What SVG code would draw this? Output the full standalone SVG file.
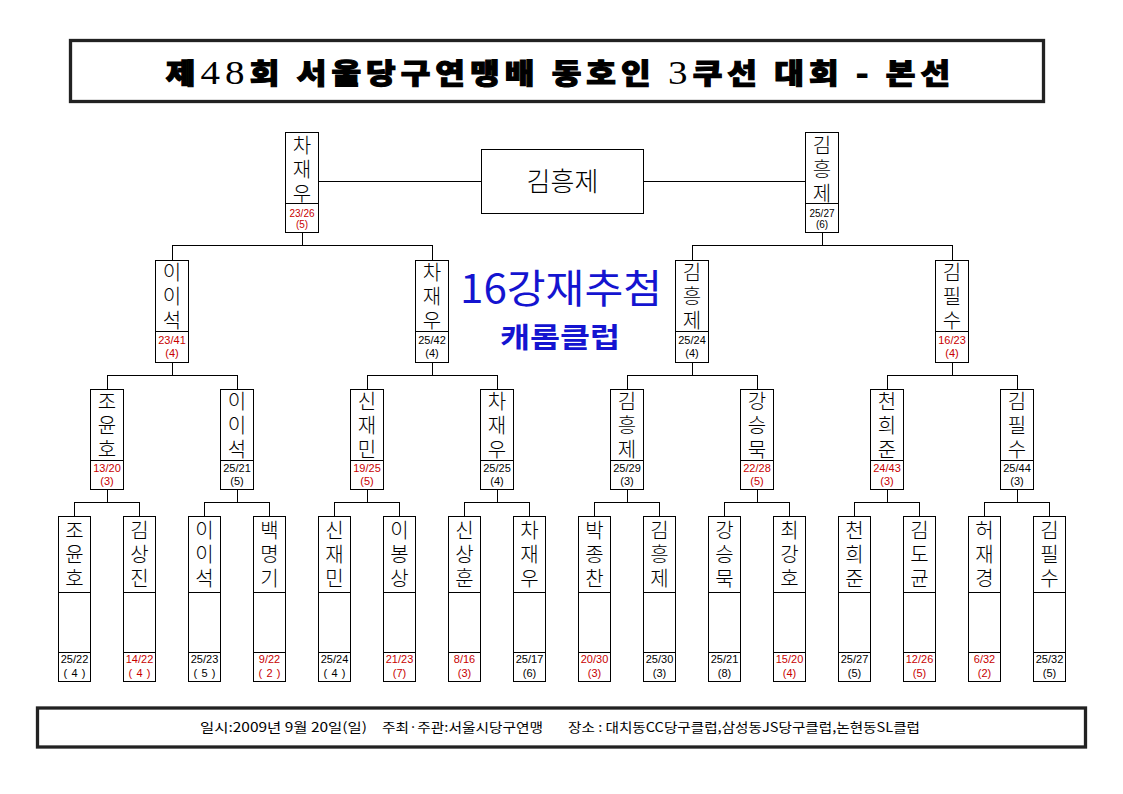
<svg xmlns="http://www.w3.org/2000/svg" width="1123" height="794" viewBox="0 0 1123 794">
<style>
.bx{fill:#fff;stroke:#000;stroke-width:1;shape-rendering:crispEdges}
.dv{stroke:#000;stroke-width:1;shape-rendering:crispEdges}
.frame{fill:none;stroke:#222;stroke-width:3.3}
.nm{font-family:"Noto Sans CJK KR","Noto Sans",sans-serif;font-size:20px;text-anchor:middle;fill:#000;font-weight:300;writing-mode:vertical-rl}
.sc{font-family:"Liberation Sans",Arial,sans-serif;font-size:11px;text-anchor:middle}
.s1{font-family:"Liberation Sans",Arial,sans-serif;font-size:10px;text-anchor:middle}
.k{fill:#000}.r{fill:#c80000}
.con path{fill:none;stroke:#000;stroke-width:1;shape-rendering:crispEdges}
.blue{font-family:"Noto Sans CJK KR",sans-serif;fill:#1414d0;text-anchor:middle}
.ft{font-family:"Noto Sans CJK KR","Liberation Sans",sans-serif;font-size:13px;fill:#000}
.dg{font-family:"Liberation Serif",serif;font-weight:normal;font-size:34px;stroke:none}
</style>
<rect width="1123" height="794" fill="#fff"/>

<g id="title">
<rect class="frame" x="70.5" y="40.5" width="973" height="61"/>
<text transform="translate(558,84) scale(1.15,1)" text-anchor="middle" textLength="682" lengthAdjust="spacing" font-family="'Noto Sans CJK KR',sans-serif" font-weight="900" font-size="28" fill="#000" stroke="#000" stroke-width="1.1">제<tspan class="dg">48</tspan>회 서울당구연맹배 동호인 <tspan class="dg">3</tspan>쿠선 대회 - 본선</text>
</g>

<g class="con" id="connectors">
<path d="M74.5 516.5V502.5H139.5V516.5M107 489.5V502.5"/>
<path d="M204.5 516.5V502.5H269.5V516.5M237 489.5V502.5"/>
<path d="M334.5 516.5V502.5H399.5V516.5M367 489.5V502.5"/>
<path d="M464.5 516.5V502.5H529.5V516.5M497 489.5V502.5"/>
<path d="M594.5 516.5V502.5H659.5V516.5M627 489.5V502.5"/>
<path d="M724.5 516.5V502.5H789.5V516.5M757 489.5V502.5"/>
<path d="M854.5 516.5V502.5H919.5V516.5M887 489.5V502.5"/>
<path d="M984.5 516.5V502.5H1049.5V516.5M1017 489.5V502.5"/>
<path d="M107 389.5V375.5H237V389.5M172 362.5V375.5"/>
<path d="M367 389.5V375.5H497V389.5M432 362.5V375.5"/>
<path d="M627 389.5V375.5H757V389.5M692 362.5V375.5"/>
<path d="M887 389.5V375.5H1017V389.5M952 362.5V375.5"/>
<path d="M172 260.5V245.5H432V260.5M302 232.5V245.5"/>
<path d="M692 260.5V245.5H952V260.5M822 232.5V245.5"/>
<path d="M318.5 181.5H481.5M643.5 181.5H805.5"/>
</g>

<g id="final">
<rect class="bx" x="481.5" y="149.5" width="162" height="64"/>
<text x="562.5" y="191" text-anchor="middle" font-family="'Noto Sans CJK KR',sans-serif" font-weight="300" font-size="26" fill="#000">김흥제</text>
</g>

<g id="f1">
<rect class="bx" x="285.5" y="132.5" width="33" height="100"/><path class="dv" d="M285.5 203.5H318.5"/>
<text class="nm" x="302" y="169" textLength="68" lengthAdjust="spacing">차재우</text>
<text class="s1 r" x="302" y="216.5">23/26</text><text class="s1 r" x="302" y="227.5">(5)</text>
</g>
<g id="f2">
<rect class="bx" x="805.5" y="132.5" width="33" height="100"/><path class="dv" d="M805.5 203.5H838.5"/>
<text class="nm" x="822" y="169" textLength="68" lengthAdjust="spacing">김흥제</text>
<text class="s1 k" x="822" y="216.5">25/27</text><text class="s1 k" x="822" y="227.5">(6)</text>
</g>

<g id="sf1">
<rect class="bx" x="155.5" y="260.5" width="33" height="102"/><path class="dv" d="M155.5 331.5H188.5"/>
<text class="nm" x="172" y="296" textLength="68" lengthAdjust="spacing">이이석</text>
<text class="sc r" x="172" y="343.5">23/41</text><text class="sc r" x="172" y="356.5">(4)</text>
</g>
<g id="sf2">
<rect class="bx" x="415.5" y="260.5" width="33" height="102"/><path class="dv" d="M415.5 331.5H448.5"/>
<text class="nm" x="432" y="296" textLength="68" lengthAdjust="spacing">차재우</text>
<text class="sc k" x="432" y="343.5">25/42</text><text class="sc k" x="432" y="356.5">(4)</text>
</g>
<g id="sf3">
<rect class="bx" x="675.5" y="260.5" width="33" height="102"/><path class="dv" d="M675.5 331.5H708.5"/>
<text class="nm" x="692" y="296" textLength="68" lengthAdjust="spacing">김흥제</text>
<text class="sc k" x="692" y="343.5">25/24</text><text class="sc k" x="692" y="356.5">(4)</text>
</g>
<g id="sf4">
<rect class="bx" x="935.5" y="260.5" width="33" height="102"/><path class="dv" d="M935.5 331.5H968.5"/>
<text class="nm" x="952" y="296" textLength="68" lengthAdjust="spacing">김필수</text>
<text class="sc r" x="952" y="343.5">16/23</text><text class="sc r" x="952" y="356.5">(4)</text>
</g>

<g id="banner">
<text class="blue" x="561" y="303" font-size="40" textLength="202" lengthAdjust="spacingAndGlyphs">16강재추첨</text>
<text class="blue" x="560" y="348" font-size="28" font-weight="bold" textLength="120" lengthAdjust="spacingAndGlyphs">캐롬클럽</text>
</g>

<g id="qf1">
<rect class="bx" x="90.5" y="389.5" width="33" height="100"/><path class="dv" d="M90.5 460.5H123.5"/>
<text class="nm" x="107" y="425" textLength="68" lengthAdjust="spacing">조윤호</text>
<text class="sc r" x="107" y="472">13/20</text><text class="sc r" x="107" y="484.5">(3)</text>
</g>
<g id="qf2">
<rect class="bx" x="220.5" y="389.5" width="33" height="100"/><path class="dv" d="M220.5 460.5H253.5"/>
<text class="nm" x="237" y="425" textLength="68" lengthAdjust="spacing">이이석</text>
<text class="sc k" x="237" y="472">25/21</text><text class="sc k" x="237" y="484.5">(5)</text>
</g>
<g id="qf3">
<rect class="bx" x="350.5" y="389.5" width="33" height="100"/><path class="dv" d="M350.5 460.5H383.5"/>
<text class="nm" x="367" y="425" textLength="68" lengthAdjust="spacing">신재민</text>
<text class="sc r" x="367" y="472">19/25</text><text class="sc r" x="367" y="484.5">(5)</text>
</g>
<g id="qf4">
<rect class="bx" x="480.5" y="389.5" width="33" height="100"/><path class="dv" d="M480.5 460.5H513.5"/>
<text class="nm" x="497" y="425" textLength="68" lengthAdjust="spacing">차재우</text>
<text class="sc k" x="497" y="472">25/25</text><text class="sc k" x="497" y="484.5">(4)</text>
</g>
<g id="qf5">
<rect class="bx" x="610.5" y="389.5" width="33" height="100"/><path class="dv" d="M610.5 460.5H643.5"/>
<text class="nm" x="627" y="425" textLength="68" lengthAdjust="spacing">김흥제</text>
<text class="sc k" x="627" y="472">25/29</text><text class="sc k" x="627" y="484.5">(3)</text>
</g>
<g id="qf6">
<rect class="bx" x="740.5" y="389.5" width="33" height="100"/><path class="dv" d="M740.5 460.5H773.5"/>
<text class="nm" x="757" y="425" textLength="68" lengthAdjust="spacing">강승묵</text>
<text class="sc r" x="757" y="472">22/28</text><text class="sc r" x="757" y="484.5">(5)</text>
</g>
<g id="qf7">
<rect class="bx" x="870.5" y="389.5" width="33" height="100"/><path class="dv" d="M870.5 460.5H903.5"/>
<text class="nm" x="887" y="425" textLength="68" lengthAdjust="spacing">천희준</text>
<text class="sc r" x="887" y="472">24/43</text><text class="sc r" x="887" y="484.5">(3)</text>
</g>
<g id="qf8">
<rect class="bx" x="1000.5" y="389.5" width="33" height="100"/><path class="dv" d="M1000.5 460.5H1033.5"/>
<text class="nm" x="1017" y="425" textLength="68" lengthAdjust="spacing">김필수</text>
<text class="sc k" x="1017" y="472">25/44</text><text class="sc k" x="1017" y="484.5">(3)</text>
</g>

<g id="p1">
<rect class="bx" x="58.5" y="516.5" width="32" height="165"/><path class="dv" d="M58.5 592.5H90.5M58.5 652.5H90.5"/>
<text class="nm" x="74.5" y="554" textLength="68" lengthAdjust="spacing">조윤호</text>
<text class="sc k" x="74.5" y="663">25/22</text><text class="sc k" x="74.5" y="677" textLength="22" lengthAdjust="spacing">(4)</text>
</g>
<g id="p2">
<rect class="bx" x="123.5" y="516.5" width="32" height="165"/><path class="dv" d="M123.5 592.5H155.5M123.5 652.5H155.5"/>
<text class="nm" x="139.5" y="554" textLength="68" lengthAdjust="spacing">김상진</text>
<text class="sc r" x="139.5" y="663">14/22</text><text class="sc r" x="139.5" y="677" textLength="22" lengthAdjust="spacing">(4)</text>
</g>
<g id="p3">
<rect class="bx" x="188.5" y="516.5" width="32" height="165"/><path class="dv" d="M188.5 592.5H220.5M188.5 652.5H220.5"/>
<text class="nm" x="204.5" y="554" textLength="68" lengthAdjust="spacing">이이석</text>
<text class="sc k" x="204.5" y="663">25/23</text><text class="sc k" x="204.5" y="677" textLength="22" lengthAdjust="spacing">(5)</text>
</g>
<g id="p4">
<rect class="bx" x="253.5" y="516.5" width="32" height="165"/><path class="dv" d="M253.5 592.5H285.5M253.5 652.5H285.5"/>
<text class="nm" x="269.5" y="554" textLength="68" lengthAdjust="spacing">백명기</text>
<text class="sc r" x="269.5" y="663">9/22</text><text class="sc r" x="269.5" y="677" textLength="22" lengthAdjust="spacing">(2)</text>
</g>
<g id="p5">
<rect class="bx" x="318.5" y="516.5" width="32" height="165"/><path class="dv" d="M318.5 592.5H350.5M318.5 652.5H350.5"/>
<text class="nm" x="334.5" y="554" textLength="68" lengthAdjust="spacing">신재민</text>
<text class="sc k" x="334.5" y="663">25/24</text><text class="sc k" x="334.5" y="677" textLength="22" lengthAdjust="spacing">(4)</text>
</g>
<g id="p6">
<rect class="bx" x="383.5" y="516.5" width="32" height="165"/><path class="dv" d="M383.5 592.5H415.5M383.5 652.5H415.5"/>
<text class="nm" x="399.5" y="554" textLength="68" lengthAdjust="spacing">이봉상</text>
<text class="sc r" x="399.5" y="663">21/23</text><text class="sc r" x="399.5" y="677">(7)</text>
</g>
<g id="p7">
<rect class="bx" x="448.5" y="516.5" width="32" height="165"/><path class="dv" d="M448.5 592.5H480.5M448.5 652.5H480.5"/>
<text class="nm" x="464.5" y="554" textLength="68" lengthAdjust="spacing">신상훈</text>
<text class="sc r" x="464.5" y="663">8/16</text><text class="sc r" x="464.5" y="677">(3)</text>
</g>
<g id="p8">
<rect class="bx" x="513.5" y="516.5" width="32" height="165"/><path class="dv" d="M513.5 592.5H545.5M513.5 652.5H545.5"/>
<text class="nm" x="529.5" y="554" textLength="68" lengthAdjust="spacing">차재우</text>
<text class="sc k" x="529.5" y="663">25/17</text><text class="sc k" x="529.5" y="677">(6)</text>
</g>
<g id="p9">
<rect class="bx" x="578.5" y="516.5" width="32" height="165"/><path class="dv" d="M578.5 592.5H610.5M578.5 652.5H610.5"/>
<text class="nm" x="594.5" y="554" textLength="68" lengthAdjust="spacing">박종찬</text>
<text class="sc r" x="594.5" y="663">20/30</text><text class="sc r" x="594.5" y="677">(3)</text>
</g>
<g id="p10">
<rect class="bx" x="643.5" y="516.5" width="32" height="165"/><path class="dv" d="M643.5 592.5H675.5M643.5 652.5H675.5"/>
<text class="nm" x="659.5" y="554" textLength="68" lengthAdjust="spacing">김흥제</text>
<text class="sc k" x="659.5" y="663">25/30</text><text class="sc k" x="659.5" y="677">(3)</text>
</g>
<g id="p11">
<rect class="bx" x="708.5" y="516.5" width="32" height="165"/><path class="dv" d="M708.5 592.5H740.5M708.5 652.5H740.5"/>
<text class="nm" x="724.5" y="554" textLength="68" lengthAdjust="spacing">강승묵</text>
<text class="sc k" x="724.5" y="663">25/21</text><text class="sc k" x="724.5" y="677">(8)</text>
</g>
<g id="p12">
<rect class="bx" x="773.5" y="516.5" width="32" height="165"/><path class="dv" d="M773.5 592.5H805.5M773.5 652.5H805.5"/>
<text class="nm" x="789.5" y="554" textLength="68" lengthAdjust="spacing">최강호</text>
<text class="sc r" x="789.5" y="663">15/20</text><text class="sc r" x="789.5" y="677">(4)</text>
</g>
<g id="p13">
<rect class="bx" x="838.5" y="516.5" width="32" height="165"/><path class="dv" d="M838.5 592.5H870.5M838.5 652.5H870.5"/>
<text class="nm" x="854.5" y="554" textLength="68" lengthAdjust="spacing">천희준</text>
<text class="sc k" x="854.5" y="663">25/27</text><text class="sc k" x="854.5" y="677">(5)</text>
</g>
<g id="p14">
<rect class="bx" x="903.5" y="516.5" width="32" height="165"/><path class="dv" d="M903.5 592.5H935.5M903.5 652.5H935.5"/>
<text class="nm" x="919.5" y="554" textLength="68" lengthAdjust="spacing">김도균</text>
<text class="sc r" x="919.5" y="663">12/26</text><text class="sc r" x="919.5" y="677">(5)</text>
</g>
<g id="p15">
<rect class="bx" x="968.5" y="516.5" width="32" height="165"/><path class="dv" d="M968.5 592.5H1000.5M968.5 652.5H1000.5"/>
<text class="nm" x="984.5" y="554" textLength="68" lengthAdjust="spacing">허재경</text>
<text class="sc r" x="984.5" y="663">6/32</text><text class="sc r" x="984.5" y="677">(2)</text>
</g>
<g id="p16">
<rect class="bx" x="1033.5" y="516.5" width="32" height="165"/><path class="dv" d="M1033.5 592.5H1065.5M1033.5 652.5H1065.5"/>
<text class="nm" x="1049.5" y="554" textLength="68" lengthAdjust="spacing">김필수</text>
<text class="sc k" x="1049.5" y="663">25/32</text><text class="sc k" x="1049.5" y="677">(5)</text>
</g>

<g id="footer">
<rect class="frame" x="37.5" y="708" width="1048" height="39"/>
<text class="ft" x="200" y="732" textLength="167" lengthAdjust="spacingAndGlyphs">일시:2009년 9월 20일(일)</text>
<text class="ft" x="382" y="732" textLength="161" lengthAdjust="spacingAndGlyphs">주최·주관:서울시당구연맹</text>
<text class="ft" x="568" y="732" textLength="352" lengthAdjust="spacingAndGlyphs">장소 : 대치동CC당구클럽,삼성동JS당구클럽,논현동SL클럽</text>
</g>
</svg>
